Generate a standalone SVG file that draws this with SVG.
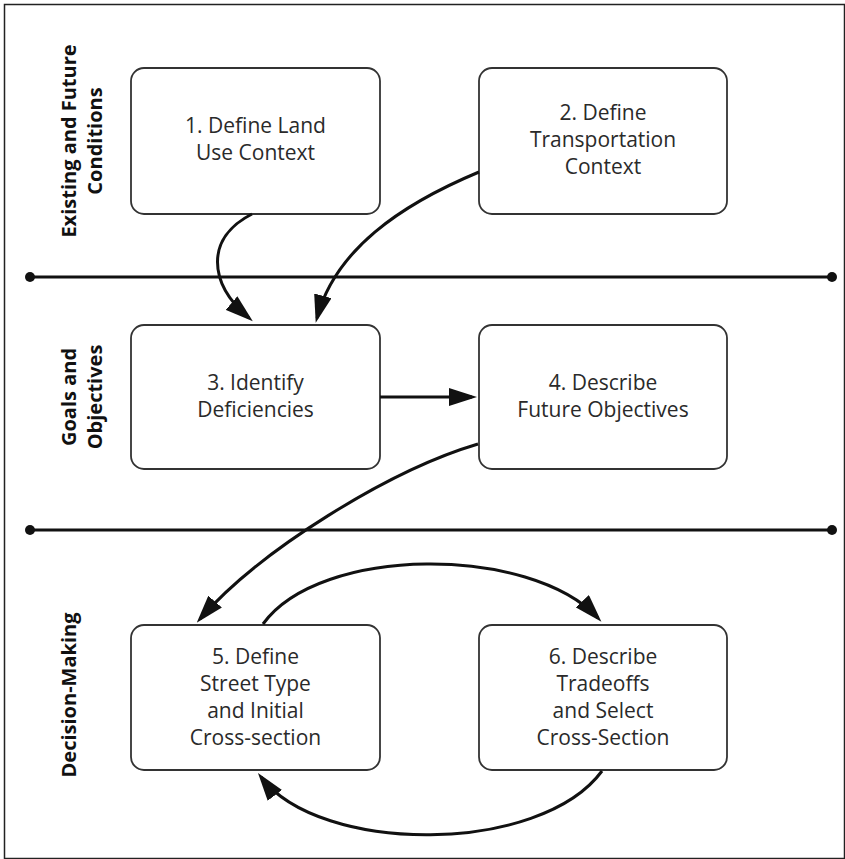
<svg xmlns="http://www.w3.org/2000/svg" width="845" height="859" viewBox="0 0 845 859">
<style>
.box{fill:#fff;stroke:#333;stroke-width:1.8}
.t{font-family:"Open Sans","Liberation Sans",sans-serif;font-size:21px;fill:#2a2a2a;text-anchor:middle}
.side{font-family:"Open Sans","Liberation Sans",sans-serif;font-size:20px;font-weight:bold;fill:#111;text-anchor:middle}
.div{stroke:#111;stroke-width:3}
.arr{fill:none;stroke:#111;stroke-width:3;marker-end:url(#ah)}
</style>
<defs>
<marker id="ah" markerUnits="userSpaceOnUse" markerWidth="28" markerHeight="18" viewBox="0 0 28 18" refX="23" refY="9" orient="auto">
<path d="M0,0 L28,9 L0,18 z" fill="#111"/>
</marker>
</defs>
<rect x="4.5" y="4.5" width="840" height="854" fill="#fff" stroke="#222" stroke-width="1.5"/>
<g id="dividers">
<line class="div" x1="30" y1="277" x2="832" y2="277"/>
<circle cx="30" cy="277" r="5" fill="#111"/>
<circle cx="832" cy="277" r="5" fill="#111"/>
<line class="div" x1="30" y1="530" x2="832" y2="530"/>
<circle cx="30" cy="530" r="5" fill="#111"/>
<circle cx="832" cy="530" r="5" fill="#111"/>
</g>
<g id="lane-labels">
<text class="side" transform="translate(76,141) rotate(-90)">Existing and Future</text>
<text class="side" transform="translate(102,141) rotate(-90)">Conditions</text>
<text class="side" transform="translate(76,397) rotate(-90)">Goals and</text>
<text class="side" transform="translate(102,397) rotate(-90)">Objectives</text>
<text class="side" transform="translate(76,695) rotate(-90)">Decision-Making</text>
</g>
<g id="n1"><rect class="box" x="131" y="68" width="249" height="146" rx="13"/>
<text class="t" x="255.5" y="133">1. Define Land</text><text class="t" x="255.5" y="160">Use Context</text></g>
<g id="n2"><rect class="box" x="479" y="68" width="248" height="146" rx="13"/>
<text class="t" x="603" y="120">2. Define</text><text class="t" x="603" y="147">Transportation</text><text class="t" x="603" y="174">Context</text></g>
<g id="n3"><rect class="box" x="131" y="325" width="249" height="144" rx="13"/>
<text class="t" x="255.5" y="390">3. Identify</text><text class="t" x="255.5" y="417">Deficiencies</text></g>
<g id="n4"><rect class="box" x="479" y="325" width="248" height="144" rx="13"/>
<text class="t" x="603" y="390">4. Describe</text><text class="t" x="603" y="417">Future Objectives</text></g>
<g id="n5"><rect class="box" x="131" y="625" width="249" height="145" rx="13"/>
<text class="t" x="255.5" y="664">5. Define</text><text class="t" x="255.5" y="691">Street Type</text><text class="t" x="255.5" y="718">and Initial</text><text class="t" x="255.5" y="745">Cross-section</text></g>
<g id="n6"><rect class="box" x="479" y="625" width="248" height="145" rx="13"/>
<text class="t" x="603" y="664">6. Describe</text><text class="t" x="603" y="691">Tradeoffs</text><text class="t" x="603" y="718">and Select</text><text class="t" x="603" y="745">Cross-Section</text></g>
<g id="connectors">
<path class="arr" d="M252,214 C205,238 208,283 249,318"/>
<path class="arr" d="M479,172 C400,205 335,250 317,318"/>
<path class="arr" d="M380,397 L472,397"/>
<path class="arr" d="M478,444 C390,470 260,550 200,619"/>
<path class="arr" d="M263,624 C320,545 530,545 598,618"/>
<path class="arr" d="M602,771 C540,855 320,855 261,777"/>
</g>
</svg>
